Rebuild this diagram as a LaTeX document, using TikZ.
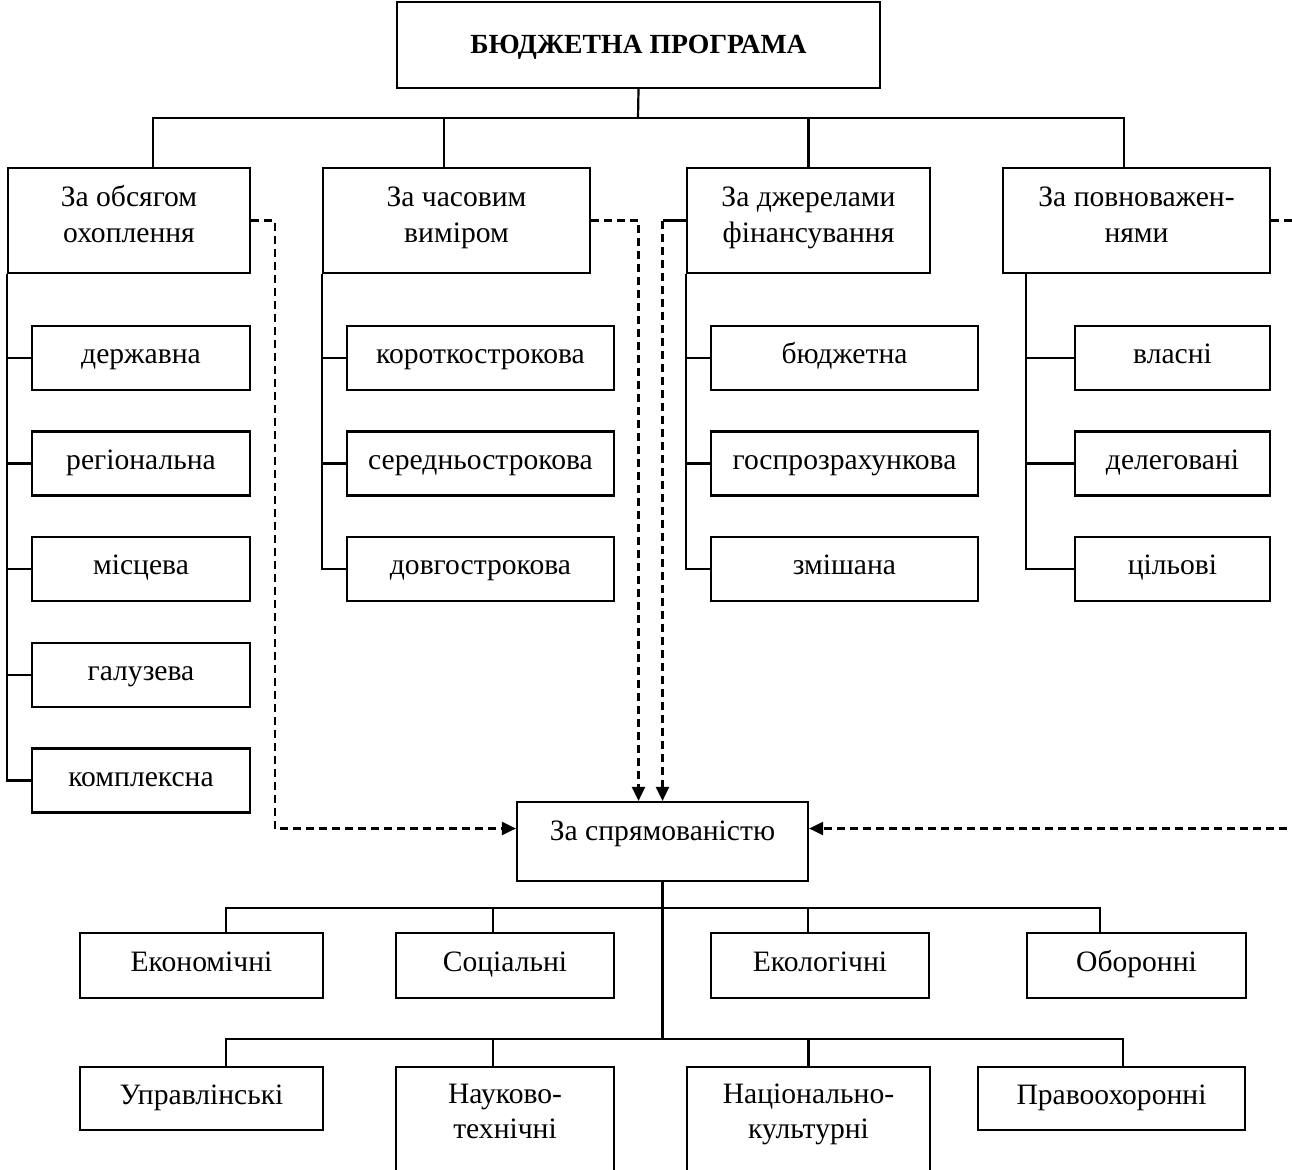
\documentclass[tikz,border=0pt]{standalone}
\usepackage{fontspec}
\setmainfont{Liberation Serif}
\usetikzlibrary{arrows.meta}
\newcommand\fsz{\fontsize{29.6}{35}\selectfont}
\newcommand\tsz{\fontsize{27.7}{33}\selectfont\bfseries}
\tikzset{
  box/.style={draw, line width=2.2pt, inner sep=0pt, align=center, font=\fsz, text height=19pt, text depth=7pt},
  subbox/.style={box, text height=18pt, text depth=7pt},
  ln/.style={anchor=base, inner sep=0pt, font=\fsz},
  conn/.style={line width=2.2pt},
  dconn/.style={line width=2.2pt, dash pattern=on 8pt off 5pt},
  arr/.style={-{Triangle[length=14pt,width=13pt]}},
}
\begin{document}
\begin{tikzpicture}[x=1pt,y=-1pt]
\clip (0,0) rectangle (1292,1169);
% title
\node[box, minimum width=483pt, minimum height=86pt, font=\tsz, text height=20pt, text depth=2pt] (T) at (638.5,45) {БЮДЖЕТНА ПРОГРАМА};
% level 1
\node[box, minimum width=242pt, minimum height=105pt] (A) at (129,220.5) {};
\node[ln] (At1) at (129,207) {За обсягом};
\node[ln] (At2) at (129,242) {охоплення};
\node[box, minimum width=267pt, minimum height=105pt] (B) at (456.5,220.5) {};
\node[ln] (Bt1) at (456.5,207) {За часовим};
\node[ln] (Bt2) at (456.5,242) {виміром};
\node[box, minimum width=243pt, minimum height=105pt] (C) at (808.5,220.5) {};
\node[ln] (Ct1) at (808.5,207) {За джерелами};
\node[ln] (Ct2) at (808.5,242) {фінансування};
\node[box, minimum width=267pt, minimum height=105pt] (D) at (1136.5,220.5) {};
\node[ln] (Dt1) at (1136.5,207) {За повноважен-};
\node[ln] (Dt2) at (1136.5,242) {нями};
% top bus
\coordinate (bus0) at (638,118);
\draw[conn] (T.south) -- (bus0);
\draw[conn] ([xshift=24pt]A.north) |- (bus0) -| ([xshift=-12.5pt]D.north);
\draw[conn] ([xshift=-12.5pt]B.north) |- (bus0);
\draw[conn] (C.north) |- (bus0);
% A subs
\node[subbox, minimum width=218pt, minimum height=64pt] (a1) at (141,358) {державна};
\node[subbox, minimum width=218pt, minimum height=64pt] (a2) at (141,463.5) {регіональна};
\node[subbox, minimum width=218pt, minimum height=64pt] (a3) at (141,569) {місцева};
\node[subbox, minimum width=218pt, minimum height=64pt] (a4) at (141,675) {галузева};
\node[subbox, minimum width=218pt, minimum height=64pt] (a5) at (141,780.5) {комплексна};
\draw[conn] (A.south west) |- (a5.west);
\foreach \s in {a1,a2,a3,a4} \draw[conn] (\s.west) -- ++(-24,0);
% B subs
\node[subbox, minimum width=267pt, minimum height=64pt] (b1) at (480.5,358) {короткострокова};
\node[subbox, minimum width=267pt, minimum height=64pt] (b2) at (480.5,463.5) {середньострокова};
\node[subbox, minimum width=267pt, minimum height=64pt] (b3) at (480.5,569) {довгострокова};
\draw[conn] (B.south west) |- (b3.west);
\foreach \s in {b1,b2} \draw[conn] (\s.west) -- ++(-24,0);
% C subs
\node[subbox, minimum width=267pt, minimum height=64pt] (c1) at (844.5,358) {бюджетна};
\node[subbox, minimum width=267pt, minimum height=64pt] (c2) at (844.5,463.5) {госпрозрахункова};
\node[subbox, minimum width=267pt, minimum height=64pt] (c3) at (844.5,569) {змішана};
\draw[conn] (C.south west) |- (c3.west);
\foreach \s in {c1,c2} \draw[conn] (\s.west) -- ++(-24,0);
% D subs
\node[subbox, minimum width=195pt, minimum height=64pt] (d1) at (1172.5,358) {власні};
\node[subbox, minimum width=195pt, minimum height=64pt] (d2) at (1172.5,463.5) {делеговані};
\node[subbox, minimum width=195pt, minimum height=64pt] (d3) at (1172.5,569) {цільові};
\draw[conn] ([xshift=24pt]D.south west) |- (d3.west);
\foreach \s in {d1,d2} \draw[conn] (\s.west) -- ++(-48,0);
% S
\node[box, minimum width=291pt, minimum height=79pt] (S) at (662.5,841.5) {};
\node[ln] (St) at (662.5,840) {За спрямованістю};
% dashed connectors
\draw[dconn, arr] (A.east) -- ++(24,0) |- ([yshift=13pt]S.west);
\draw[dconn, arr] (B.east) -| ([xshift=-24pt]S.north);
\draw[conn] (C.west) -- (C.west -| S.north);
\draw[dconn, arr] (C.west -| S.north) -- (S.north);
\coordinate (r1) at (1300,220.5);
\coordinate (r2) at (1300,828.5);
\draw[dconn] (D.east) -- (r1);
\draw[dconn, arr] (r2) -- ([yshift=13pt]S.east);
% lower buses
\coordinate (bus1) at (662.5,908);
\coordinate (bus2) at (662.5,1039);
\draw[conn] (S.south) -- (bus2);
\node[box, minimum width=243pt, minimum height=65pt] (e1) at (201.5,965.5) {Економічні};
\node[box, minimum width=218pt, minimum height=65pt] (e2) at (505,965.5) {Соціальні};
\node[box, minimum width=218pt, minimum height=65pt] (e3) at (820,965.5) {Екологічні};
\node[box, minimum width=219pt, minimum height=65pt] (e4) at (1136.5,965.5) {Оборонні};
\draw[conn] ([xshift=24.5pt]e1.north) |- (bus1) -| ([xshift=-36.5pt]e4.north);
\draw[conn] ([xshift=-12pt]e2.north) |- (bus1);
\draw[conn] ([xshift=-12pt]e3.north) |- (bus1);
\node[box, minimum width=243pt, minimum height=63pt] (f1) at (201.5,1098.5) {Управлінські};
\node[box, minimum width=218pt, minimum height=140pt] (f2) at (505,1137) {};
\node[ln] (f2t1) at (505,1103) {Науково-};
\node[ln] (f2t2) at (505,1138) {технічні};
\node[box, minimum width=243pt, minimum height=140pt] (f3) at (808.5,1137) {};
\node[ln] (f3t1) at (808.5,1103) {Національно-};
\node[ln] (f3t2) at (808.5,1138) {культурні};
\node[box, minimum width=267pt, minimum height=63pt] (f4) at (1111.5,1098.5) {Правоохоронні};
\draw[conn] ([xshift=24.5pt]f1.north) |- (bus2) -| ([xshift=11.5pt]f4.north);
\draw[conn] ([xshift=-12pt]f2.north) |- (bus2);
\draw[conn] (f3.north) |- (bus2);
\end{tikzpicture}
\end{document}
